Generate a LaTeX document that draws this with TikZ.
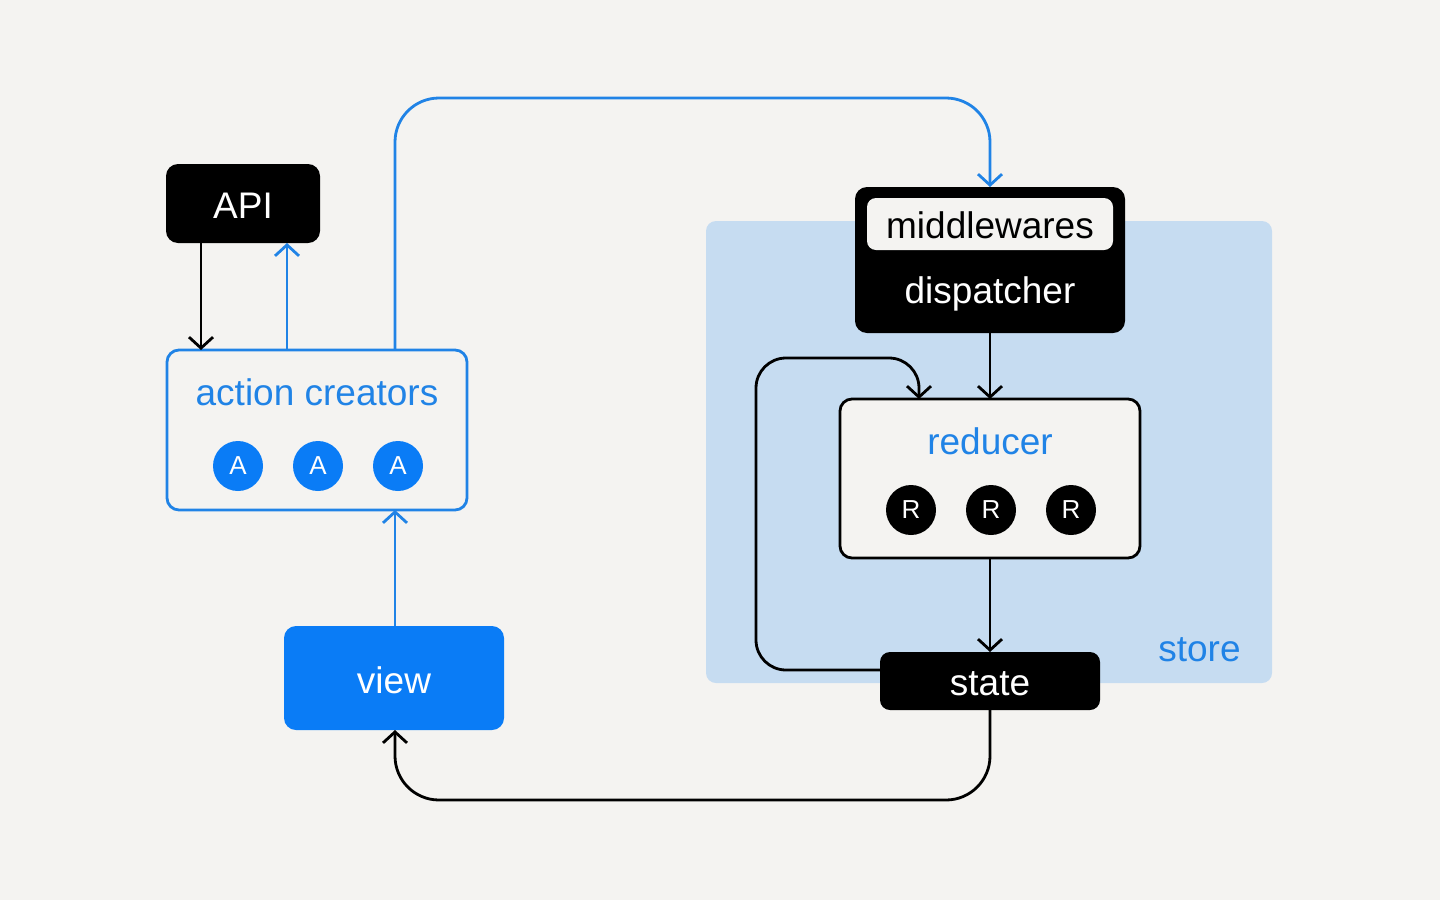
\documentclass[tikz,border=0pt]{standalone}
\usepackage{fontspec}
\setmainfont{Liberation Sans}
\usetikzlibrary{arrows.meta,calc}
\definecolor{bgc}{HTML}{F4F3F1}
\definecolor{storebg}{HTML}{C6DCF1}
\definecolor{rblue}{HTML}{0A7CF6}
\definecolor{lblue}{HTML}{2083E6}
\begin{document}
\begin{tikzpicture}[x=0.5pt,y=-0.5pt,
  box/.style={rectangle, rounded corners=6pt, inner sep=0pt, outer sep=0pt},
  blackbox/.style={box, fill=black},
  outlinebox/.style={box, fill=bgc, line width=1.4pt},
  lbl/.style={font=\fontsize{18.5}{22}\selectfont, inner sep=0pt, anchor=base},
  circA/.style={circle, fill=rblue, minimum size=25pt, inner sep=0pt, text=white, font=\fontsize{13}{15}\selectfont},
  circR/.style={circle, fill=black, minimum size=25pt, inner sep=0pt, text=white, font=\fontsize{13}{15}\selectfont},
  conn/.style={line width=1.4pt, -{Straight Barb[length=5.5pt,width=12pt]}},
  bconn/.style={conn, draw=lblue},
  kconn/.style={conn, draw=black}
]
\fill[bgc] (0,0) rectangle (1440,900);
\useasboundingbox (0,0) rectangle (1440,900);
% store region
\fill[storebg, rounded corners=5pt] (706,221) rectangle (1272,683);
\node[lbl, text=lblue, anchor=base east] (storelbl) at (1241,661) {store};

% column coordinates
\coordinate (x201) at (201,0);
\coordinate (x287) at (287,0);
\coordinate (x395) at (395,0);
\coordinate (x919) at (919,0);
\coordinate (topy) at (700,98);
\coordinate (boty) at (700,800);
\coordinate (loopL) at (756,358);
\coordinate (y670) at (0,670);

% API
\node[blackbox, minimum width=77pt, minimum height=39.5pt] (api) at (243,203.5) {};
\node[lbl, text=white] (apit) at (243,218) {API};

% action creators
\node[outlinebox, draw=lblue, minimum width=150pt, minimum height=80pt] (actc) at (317,430) {};
\node[lbl, text=lblue] (actct) at (317,405) {action creators};
\node[circA] (a1) at (238,466) {A};
\node[circA] (a2) at (318,466) {A};
\node[circA] (a3) at (398,466) {A};

% view
\node[box, fill=rblue, minimum width=110pt, minimum height=52pt] (view) at (394,678) {};
\node[lbl, text=white] (viewt) at (394,693) {view};

% dispatcher
\node[blackbox, minimum width=135pt, minimum height=73pt] (disp) at (990,260) {};
\node[box, fill=bgc, rounded corners=4.5pt, minimum width=123pt, minimum height=26pt] (mw) at (990,224) {};
\node[lbl, text=black] (mwt) at (990,238) {middlewares};
\node[lbl, text=white] (dispt) at (990,303) {dispatcher};

% reducer
\node[outlinebox, draw=black, minimum width=150pt, minimum height=79.5pt] (red) at (990,478.5) {};
\node[lbl, text=lblue] (redt) at (990,454) {reducer};
\node[circR] (r1) at (911,510) {R};
\node[circR] (r2) at (991,510) {R};
\node[circR] (r3) at (1071,510) {R};

% state
\node[blackbox, rounded corners=5pt, minimum width=110pt, minimum height=29pt] (state) at (990,681) {};
\node[lbl, text=white] (statet) at (990,695) {state};

% connectors
\draw[kconn] (api.south -| x201) -- (actc.north -| x201);
\draw[bconn] (actc.north -| x287) -- (api.south -| x287);
\draw[bconn, rounded corners=22pt] (actc.north -| x395) |- (topy) -| (disp.north);
\draw[kconn] (disp.south) -- (red.north);
\draw[kconn] (red.south) -- (state.north);
\draw[kconn, rounded corners=15pt] (state.west |- y670) -| (loopL) -| (red.north -| x919);
\draw[bconn] (view.north -| x395) -- (actc.south -| x395);
\draw[kconn, rounded corners=22pt] (state.south) |- (boty) -| (view.south -| x395);
\end{tikzpicture}
\end{document}
